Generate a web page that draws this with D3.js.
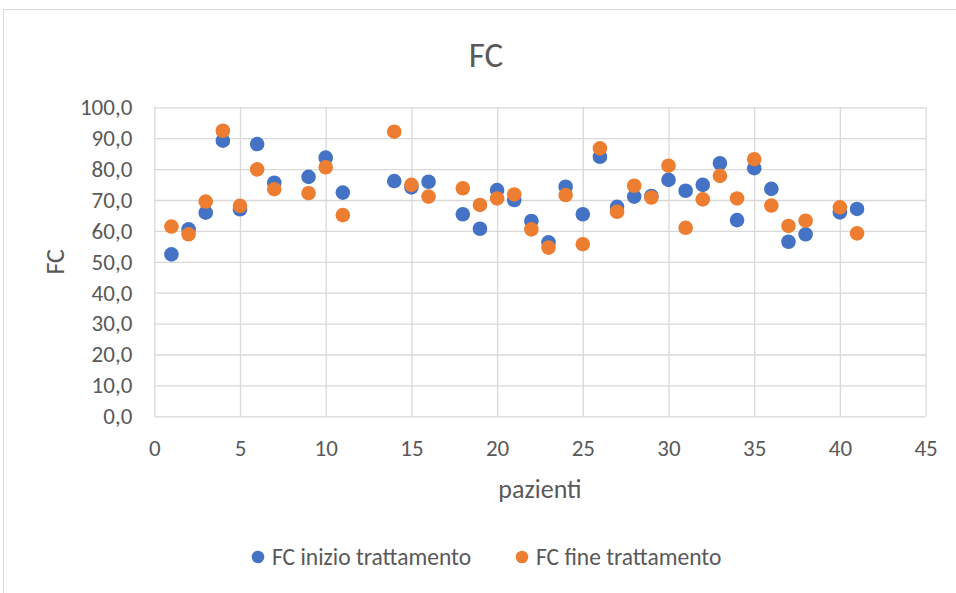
<!DOCTYPE html>
<html>
<head>
<meta charset="utf-8">
<script src="https://cdn.jsdelivr.net/npm/d3@7"></script>
<style>
  body { margin: 0; background: #fff; }
  text { font-family: Calibri, Carlito, Lato, sans-serif; fill: #595959; }
</style>
</head>
<body>
<script>
// pazienti (8, 12, 13, 17, 39 senza dati)
var pazienti = [1, 2, 3, 4, 5, 6, 7, 9, 10, 11, 14, 15, 16, 18, 19, 20, 21, 22, 23, 24,
                25, 26, 27, 28, 29, 30, 31, 32, 33, 34, 35, 36, 37, 38, 40, 41];
var fcInizio = [52.4, 60.5, 65.9, 89.2, 67.0, 88.1, 75.6, 77.5, 83.7, 72.4, 76.1, 74.1, 75.9, 65.4, 60.7, 73.2, 70.0, 63.2, 56.3, 74.3,
                65.4, 84.0, 67.8, 71.1, 71.3, 76.5, 73.0, 74.9, 81.9, 63.5, 80.3, 73.6, 56.5, 58.9, 66.0, 67.1];
var fcFine = [61.4, 58.9, 69.5, 92.4, 68.1, 79.9, 73.5, 72.2, 80.6, 65.1, 92.1, 74.9, 71.1, 73.8, 68.4, 70.5, 71.8, 60.5, 54.6, 71.6,
              55.7, 86.7, 66.2, 74.6, 70.8, 81.1, 61.0, 70.2, 77.8, 70.5, 83.2, 68.2, 61.6, 63.3, 67.6, 59.2];

var xTicks = [0, 5, 10, 15, 20, 25, 30, 35, 40, 45];
var yTicks = [0, 10, 20, 30, 40, 50, 60, 70, 80, 90, 100];

var serie = [
  {nome: "FC inizio trattamento", valori: fcInizio, colore: "#4472C4"},
  {nome: "FC fine trattamento", valori: fcFine, colore: "#ED7D31"}
];

var totalWidth = 956;
var totalHeight = 593;
var margin = {top: 107.3, left: 154.3, bottom: 176.7, right: 30.4};
var width = totalWidth - margin.left - margin.right;
var height = totalHeight - margin.top - margin.bottom;

var svgin = d3.select("body")
    .append("svg")
    .attr("width", totalWidth)
    .attr("height", totalHeight);

// bordo del grafico
svgin.append("rect")
     .attr("x", 3.5)
     .attr("y", 9.5)
     .attr("width", totalWidth + 10)
     .attr("height", totalHeight + 10)
     .attr("fill", "none")
     .attr("stroke", "#D9D9D9")
     .attr("stroke-width", 1);

var svg = svgin
    .append("g")
    .attr("transform", "translate(" + margin.left + "," + margin.top + ")");

var x = d3.scaleLinear().domain([0, 45]).range([0, width]);
var y = d3.scaleLinear().domain([0, 100]).range([height, 0]);

// griglia orizzontale
svg.append("g")
   .call(d3.axisLeft(y).tickValues(yTicks).tickSize(-width).tickFormat(""))
   .call(g => g.select(".domain").remove())
   .call(g => g.selectAll("line").attr("stroke", "#D9D9D9").attr("stroke-width", 1.3));

// griglia verticale
svg.append("g")
   .attr("transform", "translate(0," + height + ")")
   .call(d3.axisBottom(x).tickValues(xTicks).tickSize(-height).tickFormat(""))
   .call(g => g.select(".domain").remove())
   .call(g => g.selectAll("line").attr("stroke", "#D9D9D9").attr("stroke-width", 1.3));

// etichette asse y
svg.append("g")
   .call(d3.axisLeft(y).tickValues(yTicks).tickSize(0).tickPadding(22)
           .tickFormat(d => d3.format(".1f")(d).replace(".", ",")))
   .call(g => g.select(".domain").remove())
   .call(g => g.selectAll("text").attr("font-size", "23px").attr("fill", "#595959")
                .attr("font-family", "Calibri, Carlito, Lato, sans-serif"));

// etichette asse x
svg.append("g")
   .attr("transform", "translate(0," + height + ")")
   .call(d3.axisBottom(x).tickValues(xTicks).tickSize(0).tickPadding(23))
   .call(g => g.select(".domain").remove())
   .call(g => g.selectAll("text").attr("font-size", "23px").attr("fill", "#595959")
                .attr("font-family", "Calibri, Carlito, Lato, sans-serif"));

// punti
serie.forEach(function(s) {
  svg.append("g")
     .selectAll("circle")
     .data(pazienti)
     .enter()
     .append("circle")
     .attr("cx", d => x(d))
     .attr("cy", (d, i) => y(s.valori[i]))
     .attr("r", 7.3)
     .attr("fill", s.colore);
});

// titolo
svgin.append("text")
     .attr("x", 486)
     .attr("y", 67)
     .attr("text-anchor", "middle")
     .attr("font-size", "35px")
     .text("FC");

// titoli assi
svgin.append("text")
     .attr("x", margin.left + width / 2)
     .attr("y", 498)
     .attr("text-anchor", "middle")
     .attr("font-size", "26px")
     .text("pazienti");

svgin.append("text")
     .attr("transform", "translate(64," + (margin.top + height / 2) + ") rotate(-90)")
     .attr("text-anchor", "middle")
     .attr("font-size", "26px")
     .text("FC");

// legenda
var legendaX = [258, 522];
serie.forEach(function(s, i) {
  svgin.append("circle")
       .attr("cx", legendaX[i])
       .attr("cy", 557)
       .attr("r", 6.3)
       .attr("fill", s.colore);
  svgin.append("text")
       .attr("x", legendaX[i] + 14)
       .attr("y", 565)
       .attr("font-size", "23.5px")
       .text(s.nome);
});
</script>
</body>
</html>
